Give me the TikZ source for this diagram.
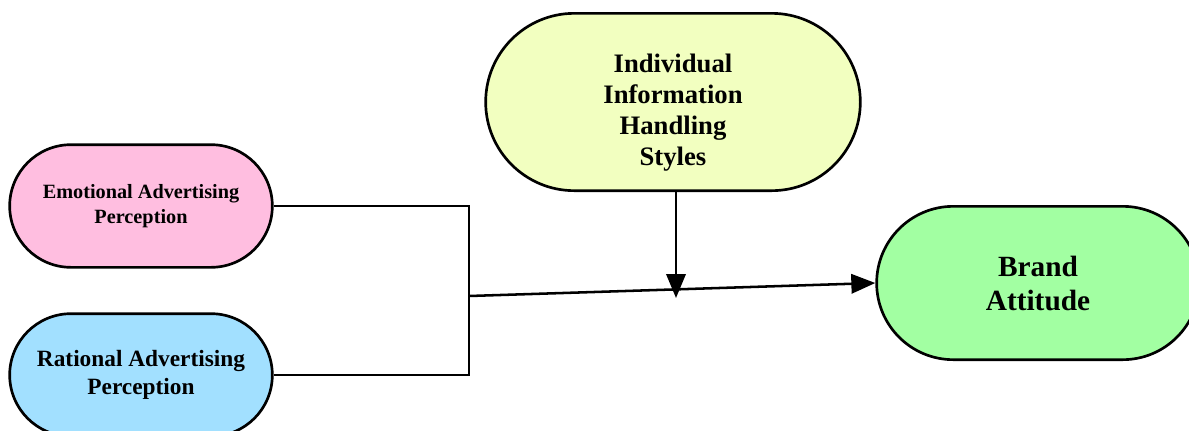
\documentclass[tikz,border=0pt]{standalone}
\usepackage{fontspec}
\setmainfont{Liberation Serif}
\usetikzlibrary{arrows.meta}
\definecolor{emopink}{HTML}{FFBEE0}
\definecolor{ratblue}{HTML}{A2E0FF}
\definecolor{infoyel}{HTML}{F2FFC0}
\definecolor{attgreen}{HTML}{A2FFA2}
\tikzset{
  pill/.style={draw=black,line width=2pt,inner sep=0pt,align=center},   % stadium box
  link/.style={black,line width=1.9pt},                                 % plain connector
  arr/.style={link,-{Triangle[length=18pt,width=14.5pt]}},              % arrow connector
}

\begin{document}
\begin{tikzpicture}[x=0.75pt,y=-0.75pt]
  \useasboundingbox (0,0) rectangle (1189,430);
  \node[pill,fill=infoyel,minimum width=281pt,minimum height=133pt,rounded corners=66.5pt,
        font=\fontsize{20}{23.3}\selectfont\bfseries] (ihs) at (673,102)
        {\raisebox{-8pt}[\height][\depth]{\begin{tabular}{@{}c@{}}Individual\\Information\\Handling\\Styles\end{tabular}}};
  \node[pill,fill=emopink,minimum width=197pt,minimum height=92pt,rounded corners=46pt,
        font=\fontsize{15.2}{18.8}\selectfont\bfseries] (emo) at (141,206) {Emotional Advertising\\Perception};
  \node[pill,fill=ratblue,minimum width=197pt,minimum height=92pt,rounded corners=46pt,
        font=\fontsize{17.5}{21}\selectfont\bfseries] (rat) at (141,375) {Rational Advertising\\Perception};
  \node[pill,fill=attgreen,minimum width=242pt,minimum height=115pt,rounded corners=57.5pt,
        font=\fontsize{22}{25.5}\selectfont\bfseries] (att) at (1038,283) {Brand\\Attitude};
  \coordinate (jm) at (469,296);
  \coordinate (mod) at (676,298);
  \draw[link] (emo.east) -| (jm) |- (rat.east);
  \draw[arr] (jm) -- (att.west);
  \draw[arr] (ihs.south -| mod) -- (mod);
\end{tikzpicture}
\end{document}
